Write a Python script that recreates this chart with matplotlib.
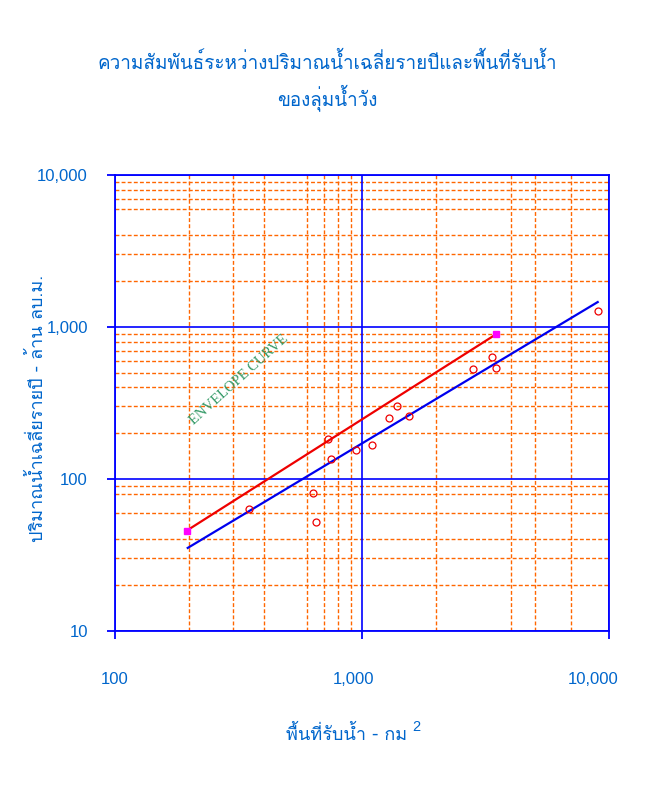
import matplotlib
matplotlib.use("Agg")
import matplotlib.pyplot as plt
from matplotlib import font_manager
from matplotlib.ticker import FixedLocator, FuncFormatter
from matplotlib.transforms import ScaledTranslation

# ---------------- data ----------------
area_km2 = [348, 633, 653, 728, 751, 943, 1101, 1286, 1386, 1554, 2807, 3369, 3477, 9000]
runoff_mcm = [63.2, 81.3, 52.5, 182.5, 134.8, 155.2, 168.2, 253.1, 300.8, 260.9, 526.8, 639.5, 537.5, 1269]

envelope_x = [195, 3490]
envelope_y = [45.7, 896]

regress_x = [197, 9000]
regress_y = [35.2, 1459]

x_major = [100, 1000, 10000]
y_major = [10, 100, 1000, 10000]
x_minor_grid = [200, 300, 400, 600, 700, 800, 900, 2000, 4000, 5000, 7000]
y_minor_grid = [20, 30, 40, 60, 80, 90,
                200, 300, 400, 500, 600, 700, 800, 900,
                2000, 3000, 4000, 6000, 7000, 8000, 9000]

title_line1 = "ความสัมพันธ์ระหว่างปริมาณน้ำเฉลี่ยรายปีและพื้นที่รับน้ำ"
title_line2 = "ของลุ่มน้ำวัง"
xlabel_text = "พื้นที่รับน้ำ - กม"
xlabel_sup = "2"
ylabel_text = "ปริมาณน้ำเฉลี่ยรายปี - ล้าน ลบ.ม."
envelope_label = "ENVELOPE CURVE"

# ---------------- find a Thai-capable font ----------------
def find_thai_font():
    try:
        from fontTools.ttLib import TTFont
    except Exception:
        return None
    prefs = ['Tahoma', 'Loma', 'Noto Sans Thai', 'Noto Sans Thai UI', 'Garuda', 'Waree',
             'Umpush', 'Sawasdee', 'Tlwg Typo', 'Kinnari', 'Norasi', 'Laksaman',
             'Leelawadee UI', 'FreeSans', 'FreeSerif', 'DejaVu Sans']
    found = {}
    for f in font_manager.fontManager.ttflist:
        if f.name in found:
            continue
        try:
            kw = {}
            if f.fname.lower().endswith('.ttc'):
                kw['fontNumber'] = 0
            tt = TTFont(f.fname, lazy=True, **kw)
            cmap = tt.getBestCmap()
            if cmap and 0x0E01 in cmap and 0x0E49 in cmap and 0x0E33 in cmap:
                found[f.name] = f.fname
        except Exception:
            pass
    for p in prefs:
        if p in found:
            return p
    if found:
        return sorted(found)[0]
    return None

thai = find_thai_font()
thai_family = [thai, 'DejaVu Sans'] if thai else ['DejaVu Sans']

blue_text = '#0066cc'
axis_blue = '#0000ff'
orange = '#ff6600'

fig = plt.figure(figsize=(6.5, 7.86), dpi=100)
ax = fig.add_axes([115/650, 1-631/786, 494/650, 456/786])

ax.set_xscale('log')
ax.set_yscale('log')
ax.set_xlim(100, 10000)
ax.set_ylim(10, 10000)

# grid
dash = (0, (2.8, 1.6))
for v in x_minor_grid:
    ax.axvline(v, color=orange, lw=1.0, ls=dash, zorder=1)
for v in y_minor_grid:
    ax.axhline(v, color=orange, lw=1.0, ls=dash, zorder=1)
for v in x_major:
    ax.axvline(v, color=axis_blue, lw=1.2, zorder=1.5)
for v in y_major:
    ax.axhline(v, color=axis_blue, lw=1.2, zorder=1.5)

# lines and points
ax.plot(regress_x, regress_y, color='#0000ee', lw=1.6, zorder=3)
ax.plot(envelope_x, envelope_y, color='#ee0000', lw=1.6, zorder=3)
ax.plot(envelope_x, envelope_y, ls='none', marker='s', ms=5, color='#ff00ff', zorder=4)
ax.plot(area_km2, runoff_mcm, ls='none', marker='o', ms=5, mfc='none', mec='#ee0000',
        mew=0.9, zorder=4)

ax.text(0.25, 0.55, envelope_label, transform=ax.transAxes, rotation=42,
        ha='center', va='center', color='#339966', fontsize=10.5,
        family=['Liberation Serif', 'DejaVu Serif'], zorder=5)

# ticks
ax.xaxis.set_major_locator(FixedLocator(x_major))
ax.yaxis.set_major_locator(FixedLocator(y_major))
ax.xaxis.set_minor_locator(FixedLocator([]))
ax.yaxis.set_minor_locator(FixedLocator([]))
fmt = FuncFormatter(lambda v, p: f"{int(round(v)):,}")
ax.xaxis.set_major_formatter(fmt)
ax.yaxis.set_major_formatter(fmt)
ax.tick_params(axis='both', which='major', direction='out', length=6, width=1.3,
               color=axis_blue, labelcolor=blue_text, labelsize=12)
ax.tick_params(axis='x', pad=23.5)
ax.tick_params(axis='y', pad=13.5)
for lab in ax.get_xticklabels() + ax.get_yticklabels():
    lab.set_family(['Liberation Sans', 'DejaVu Sans'])
# Excel-like slight left shift of the x tick labels
for lab, dx in zip(ax.get_xticklabels(), [0, -8, -16]):
    lab.set_transform(lab.get_transform() + ScaledTranslation(dx/100, 0, fig.dpi_scale_trans))

for s in ax.spines.values():
    s.set_color(axis_blue)
    s.set_linewidth(1.3)

# labels and title
fig.text(327/650, 1-62/786, title_line1, ha='center', va='center', color=blue_text,
         fontsize=13.6, family=thai_family)
fig.text(327/650, 1-98/786, title_line2, ha='center', va='center', color=blue_text,
         fontsize=13.6, family=thai_family)
fig.text(347/650, 1-740/786, xlabel_text, ha='center', va='baseline', color=blue_text,
         fontsize=13, family=thai_family)
fig.text(416/650, 1-731/786, xlabel_sup, ha='center', va='baseline', color=blue_text,
         fontsize=10.5, family=['Liberation Sans', 'DejaVu Sans'])
fig.text(37/650, 1-408/786, ylabel_text, ha='center', va='center', rotation=90,
         color=blue_text, fontsize=13, family=thai_family)

fig.savefig('out.png', dpi=100, facecolor='white')
